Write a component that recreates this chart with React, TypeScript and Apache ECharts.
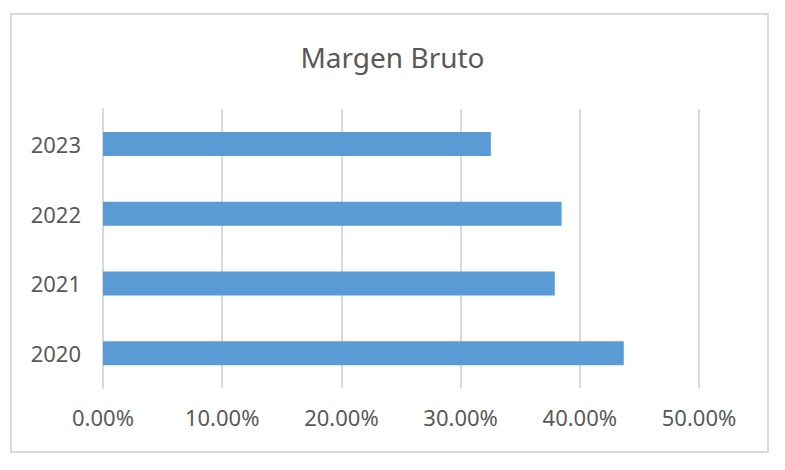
import React, { useEffect, useRef } from "react";
import * as echarts from "echarts";

const categories = ["2020", "2021", "2022", "2023"];
const margins = [0.4369, 0.379, 0.3847, 0.3254];
const xTicks = { min: 0, max: 0.5, interval: 0.1 };
const title = "Margen Bruto";

export default function App() {
  const ref = useRef<HTMLDivElement>(null);
  useEffect(() => {
    if (!ref.current) return;
    const chart = echarts.init(ref.current, undefined, { renderer: "svg" });
    const font = "'Noto Sans', sans-serif";
    chart.setOption({
      animation: false,
      backgroundColor: "#ffffff",
      title: {
        text: title,
        left: "center",
        top: 38,
        textStyle: { fontFamily: font, fontSize: 28, fontWeight: "normal", color: "#595959" },
      },
      graphic: [
        {
          type: "rect",
          shape: { x: 11, y: 14, width: 757, height: 438 },
          style: { fill: "none", stroke: "#D9D9D9", lineWidth: 2 },
          silent: true,
        },
      ],
      grid: { left: 103, right: 86, top: 109, bottom: 82, containLabel: false },
      xAxis: {
        type: "value",
        min: xTicks.min,
        max: xTicks.max,
        interval: xTicks.interval,
        axisLine: { show: false },
        axisTick: { show: false },
        splitLine: { show: true, lineStyle: { color: "#D9D9D9", width: 2 } },
        axisLabel: {
          margin: 18,
          fontFamily: font,
          fontSize: 22,
          color: "#595959",
          formatter: (v: number) => (v * 100).toFixed(2) + "%",
        },
      },
      yAxis: {
        type: "category",
        data: categories,
        axisLine: { show: true, lineStyle: { color: "#D9D9D9", width: 2 } },
        axisTick: { show: false },
        axisLabel: { margin: 22, fontFamily: font, fontSize: 22, color: "#595959" },
      },
      series: [
        {
          type: "bar",
          data: margins,
          barWidth: 24,
          itemStyle: { color: "#5B9BD5" },
        },
      ],
    });
    return () => chart.dispose();
  }, []);
  return (
    <div
      ref={ref}
      style={{ position: "absolute", left: 0, top: 0, width: 785, height: 470, background: "#fff" }}
    />
  );
}
